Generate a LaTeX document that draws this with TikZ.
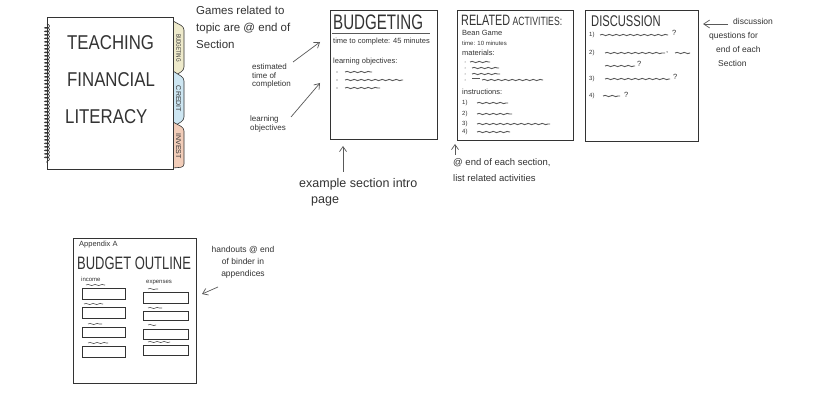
\documentclass[tikz,border=0pt]{standalone}
\usepackage{fontspec}
\setmainfont{Liberation Sans}
\newfontfamily\narrow[FakeStretch=0.72]{Liberation Sans}
\newfontfamily\midnarrow[FakeStretch=0.84]{Liberation Sans}
\usetikzlibrary{decorations.pathmorphing,arrows.meta}
\definecolor{tabyellow}{HTML}{EEEACB}
\definecolor{tabblue}{HTML}{CDE6F2}
\definecolor{tabpeach}{HTML}{F2CDB9}
\definecolor{ink}{HTML}{333333}
\tikzset{
  page/.style={draw=ink, line width=1pt, inner sep=0pt, anchor=north west},
  tabline/.style={draw=ink, line width=0.6pt, rounded corners=3pt},
  tabtext/.style={rotate=-90, inner sep=0pt, text=ink},
  big/.style={font=\midnarrow\fontsize{20}{20}\selectfont, inner sep=0pt, anchor=west, text=ink},
  hand/.style={font=\fontsize{11.5}{17}\selectfont, align=left, inner sep=0pt, anchor=north west, text=ink},
  note/.style={font=\fontsize{8}{8.5}\selectfont, align=left, inner sep=0pt, text=ink},
  tiny/.style={font=\fontsize{6}{6}\selectfont, inner sep=0pt, anchor=west, text=ink},
  small/.style={font=\fontsize{7.5}{7.5}\selectfont, inner sep=0pt, anchor=west, text=ink},
  squig/.style={draw=black!65, line width=0.9pt, decorate, decoration={snake, amplitude=0.6pt, segment length=7pt}},
  rulel/.style={draw=black!65, line width=0.8pt},
  pointer/.style={draw=black!65, line width=0.7pt, -{Straight Barb[length=5pt,width=7pt]}},
  fieldbox/.style={draw=ink, line width=0.8pt, inner sep=0pt, anchor=north west},
}
\begin{document}
\begin{tikzpicture}[x=1pt,y=-1pt]
\useasboundingbox (0,0) rectangle (832,406);
\fill[white] (0,0) rectangle (832,406);

% ---------- binder ----------
\draw[tabline, fill=tabyellow] (173,21) -- (184,27) -- (184,70) -- (173,77);
\draw[tabline, fill=tabblue] (173,71) -- (184,78) -- (184,120) -- (173,127);
\draw[tabline, fill=tabpeach] (173,122) -- (184,128) -- (184,167) -- (173,168);
\node[tabtext, font=\narrow\fontsize{6.5}{6.5}\selectfont] (tabB) at (178.5,48) {BUDGETING};
\node[tabtext, font=\fontsize{7}{7}\selectfont] (tabC) at (178.5,99) {CREDIT};
\node[tabtext, font=\fontsize{7}{7}\selectfont] (tabI) at (178.5,146) {INVEST};
\node[page, minimum width=126pt, minimum height=152pt, fill=white] (binder) at (47,17) {};
\draw[ink, line width=0.6pt, decorate, decoration={coil, aspect=0.5, segment length=3.5pt, amplitude=2.5pt}] (47,24) -- (47,163);
\node[big] (t1) at (67,43) {TEACHING};
\node[big] (t2) at (67,80) {FINANCIAL};
\node[big] (t3) at (65,117) {LITERACY};

% ---------- notes left of budgeting ----------
\node[hand] (games) at (196,6) {Games related to\\topic are @ end of\\Section};
\node[note, anchor=north west] (est) at (252,64) {estimated\\time of\\completion};
\node[note, anchor=north west] (lo) at (250,116) {learning\\objectives};

% ---------- budgeting page ----------
\node[page, minimum width=107pt, minimum height=129pt] (budget) at (330,10) {};
\node[font=\narrow\fontsize{21}{21}\selectfont, inner sep=0pt, anchor=west, text=ink] (bt) at (333,22) {BUDGETING};
\draw[rulel] (332,33) -- (430,33);
\node[small] (btime) at (333,42) {time to complete: 45 minutes};
\node[small] (blo) at (333,62) {learning objectives:};
\foreach \yy/\xe in {72/372,80/403,88/380}{
  \fill[black!70] (337,\yy) circle (0.6pt);
  \draw[squig] (345,\yy) -- (\xe,\yy);
}
\coordinate (estS) at (293,62);
\coordinate (estT) at (320,42);
\coordinate (loS) at (291,117);
\coordinate (loT) at (320,83);
\draw[pointer] (estS) -- (estT);
\draw[pointer] (loS) -- (loT);

% ---------- related activities page ----------
\node[page, minimum width=116pt, minimum height=130pt] (related) at (457,10) {};
\node[font=\narrow\fontsize{15}{15}\selectfont, inner sep=0pt, anchor=west, text=ink] (rt) at (461,20) {RELATED\,{\fontsize{12}{12}\selectfont ACTIVITIES:}};
\node[small] (bean) at (462,33) {Bean Game};
\node[tiny] (rtime) at (462,43) {time: 10 minutes};
\node[small] (mat) at (462,53) {materials:};
\foreach \yy/\xs/\xe in {62/470/490,68/472/499,74/472/500,80/482/543}{
  \fill[black!70] (465,\yy) circle (0.5pt);
  \draw[squig] (\xs,\yy) -- (\xe,\yy);
}
\draw[rulel] (472,78) -- (480,78);
\node[small] (instr) at (462,92) {instructions:};
\foreach \yy/\nn/\xe in {103/1/508,114/2/512,124/3/550,132/4/510}{
  \node[tiny] at (462,\yy) {\nn)};
  \draw[squig] (477,\yy) -- (\xe,\yy);
}

% ---------- discussion page ----------
\node[page, minimum width=113pt, minimum height=131pt] (disc) at (585,10) {};
\node[font=\narrow\fontsize{15.5}{15.5}\selectfont, inner sep=0pt, anchor=west, text=ink] (dt) at (591,21) {DISCUSSION};
\node[tiny] (q1) at (589,35) {1)};
\draw[squig] (600,35) -- (668,35);
\node[small] at (672,33) {?};
\node[tiny] (q2) at (589,53) {2)};
\draw[squig] (605,53) -- (665,53);
\node[small] at (666,53) {,};
\draw[squig] (675,53) -- (690,53);
\draw[squig] (605,66) -- (635,66);
\node[small] at (637,64) {?};
\node[tiny] (q3) at (589,79) {3)};
\draw[squig] (605,79) -- (670,79);
\node[small] at (673,77) {?};
\node[tiny] (q4) at (589,96) {4)};
\draw[squig] (603,96) -- (620,96);
\node[small] at (624,95) {?};

\node[font=\fontsize{8.5}{14}\selectfont, align=left, inner sep=0pt, anchor=north west, text=ink] (dnote) at (709,18) {\hspace*{24pt}discussion\\questions for\\\hspace*{7pt}end of each\\\hspace*{9pt}Section};
\coordinate (dS) at (728,24);
\coordinate (dT) at (703,24);
\draw[pointer, -{Straight Barb[length=6pt,width=8pt]}] (dS) -- (dT);

% ---------- captions below ----------
\node[font=\fontsize{12.5}{16}\selectfont, align=left, inner sep=0pt, anchor=north west, text=ink] (cap1) at (299,178) {example section intro\\\hspace*{12pt}page};
\coordinate (bS) at (343,172);
\coordinate (bup) at (343,146);
\draw[pointer] (bS) -- (bup);
\node[font=\fontsize{9.5}{16}\selectfont, align=left, inner sep=0pt, anchor=north west, text=ink] (cap2) at (453,158) {@ end of each section,\\list related activities};
\coordinate (rS) at (455,155);
\coordinate (rup) at (455,144);
\draw[pointer] (rS) -- (rup);

% ---------- appendix page ----------
\node[page, minimum width=123pt, minimum height=145pt] (app) at (73,238) {};
\node[small] (appa) at (79,245) {Appendix A};
\node[font=\narrow\fontsize{18}{18}\selectfont, inner sep=0pt, anchor=west, text=ink] (bo) at (77,263) {BUDGET OUTLINE};
\node[tiny] (inc) at (81,279) {income};
\node[tiny] (exp) at (146,283) {expenses};
\foreach \yy/\h in {288/11,307/11,327/10,346/11}{
  \node[fieldbox, minimum width=43pt, minimum height=\h pt] at (82,\yy) {};
}
\foreach \yy/\h in {292/11,311/9,329/10,345/10}{
  \node[fieldbox, minimum width=45pt, minimum height=\h pt] at (143,\yy) {};
}
\foreach \yy/\xs/\xe in {285/86/105,304/84/103,324/88/102,343/88/108}{
  \draw[squig, line width=0.6pt] (\xs,\yy) -- (\xe,\yy);
}
\foreach \yy/\xs/\xe in {289/148/158,308/148/162,325/148/156,342/148/170}{
  \draw[squig, line width=0.6pt] (\xs,\yy) -- (\xe,\yy);
}
\node[font=\fontsize{8.5}{12}\selectfont, align=center, inner sep=0pt, anchor=north, text=ink] (hand) at (243,246) {handouts @ end\\of binder in\\appendices};
\coordinate (hS) at (218,287);
\coordinate (hT) at (202,294);
\draw[pointer] (hS) -- (hT);
\end{tikzpicture}
\end{document}
